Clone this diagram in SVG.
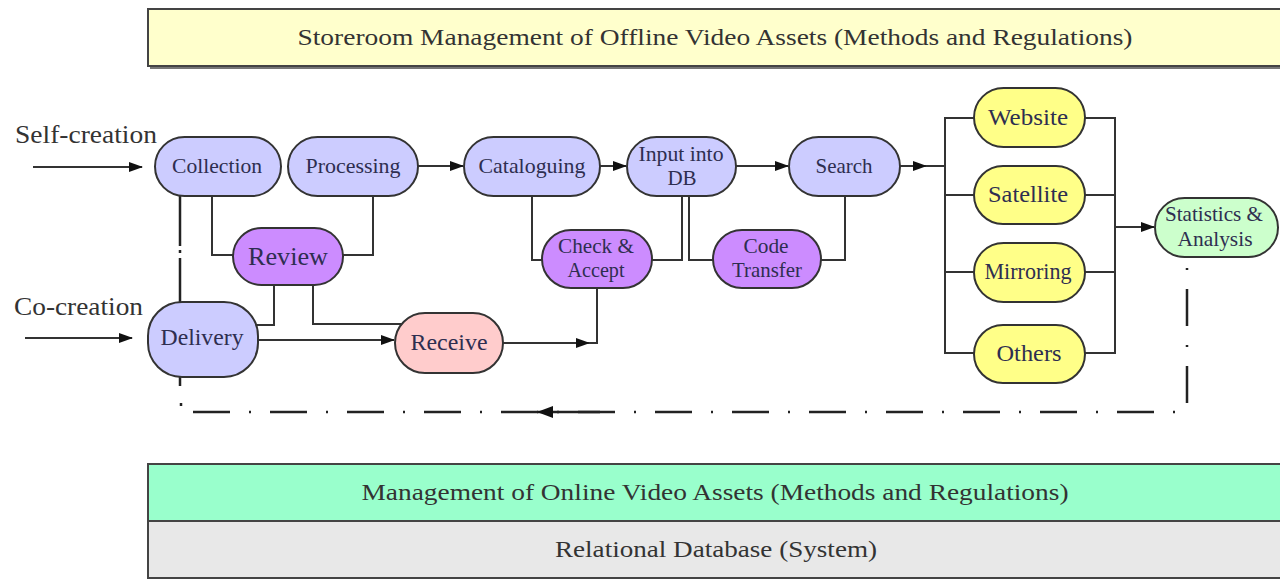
<svg xmlns="http://www.w3.org/2000/svg" width="1280" height="579" viewBox="0 0 1280 579">
<defs>
<marker id="ah" markerWidth="14" markerHeight="10" refX="13" refY="5" orient="auto" markerUnits="userSpaceOnUse"><path d="M0,0 L14,5 L0,10 z" fill="#111"/></marker>
</defs>
<style>
.node{stroke:#333;stroke-width:2}
.blue{fill:#ccccff}
.purple{fill:#cc8cff}
.pink{fill:#ffcccc}
.yellow{fill:#ffff88}
.green{fill:#ccffcc}
text{font-family:'Liberation Serif','Times New Roman',Tinos,serif}
.lbl{fill:#2e2e50;text-anchor:middle;font-size:21px}
.big{font-size:23px}
.ban{fill:#333;text-anchor:middle;font-size:24px}
.side{fill:#333;font-size:25px}
.conn{fill:none;stroke:#333;stroke-width:2}
.dd{fill:none;stroke:#222;stroke-width:2.5}
.dda{stroke-dasharray:37,19,2,19}
</style>
<rect width="1280" height="579" fill="#fff"/>

<g id="banner-top">
<rect x="150" y="12" width="1140" height="57" fill="#777"/>
<rect x="148" y="9" width="1140" height="57" fill="#ffffcc" stroke="#444" stroke-width="2"/>
<text class="ban" x="715" y="45" textLength="835" lengthAdjust="spacingAndGlyphs">Storeroom Management of Offline Video Assets (Methods and Regulations)</text>
</g>
<g id="banner-online">
<rect x="148" y="464" width="1140" height="57" fill="#99ffcc" stroke="#444" stroke-width="2"/>
<text class="ban" x="715" y="500" textLength="707" lengthAdjust="spacingAndGlyphs">Management of Online Video Assets (Methods and Regulations)</text>
</g>
<g id="banner-db">
<rect x="148" y="521" width="1140" height="57" fill="#e8e8e8" stroke="#444" stroke-width="2"/>
<text class="ban" x="716" y="557" textLength="322" lengthAdjust="spacingAndGlyphs">Relational Database (System)</text>
</g>

<text class="side" x="15" y="143" textLength="142" lengthAdjust="spacingAndGlyphs">Self-creation</text>
<text class="side" x="14" y="315" textLength="129" lengthAdjust="spacingAndGlyphs">Co-creation</text>

<g id="connectors">
<path class="conn" d="M33,167 H142" marker-end="url(#ah)"/>
<path class="conn" d="M25,338 H132" marker-end="url(#ah)"/>
<path class="conn" d="M418,166 H463" marker-end="url(#ah)"/>
<path class="conn" d="M600,166 H626" marker-end="url(#ah)"/>
<path class="conn" d="M736,166 H788" marker-end="url(#ah)"/>
<path class="conn" d="M900,166 H926" marker-end="url(#ah)"/>
<path class="conn" d="M926,166 H945"/>
<path class="conn" d="M974,118 H945 V353 H974 M945,195 H974 M945,272 H974"/>
<path class="conn" d="M1085,118 H1115 V353 H1085 M1085,195 H1115 M1085,272 H1115"/>
<path class="conn" d="M1115,227 H1154" marker-end="url(#ah)"/>
<path class="conn" d="M212,196 V255 H234"/>
<path class="conn" d="M373,196 V255 H342"/>
<path class="conn" d="M274,285 V325 H254"/>
<path class="conn" d="M313,285 V324 H408"/>
<path class="conn" d="M258,340 H394" marker-end="url(#ah)"/>
<path class="conn" d="M503,343 H589" marker-end="url(#ah)"/>
<path class="conn" d="M589,343 H597 V288"/>
<path class="conn" d="M532,196 V260 H543"/>
<path class="conn" d="M682,196 V260 H651"/>
<path class="conn" d="M689,196 V260 H714"/>
<path class="conn" d="M845,196 V260 H820"/>
<path class="dd" d="M180,196 V246 M180,250 V253 M180,258 V302 M180,377 V386 M181,403 V406"/>
<path class="dd dda" d="M193,412 H1187"/>
<path class="dd dda" d="M1187,403 V265"/>
<path class="dd" d="M537,412 H600"/>
<path d="M537,412 L553,406 L553,418 z" fill="#111"/>
</g>

<g id="collection"><rect class="node blue" x="155" y="137" width="126" height="59" rx="29.5"/><text class="lbl" x="217" y="173" textLength="90" lengthAdjust="spacingAndGlyphs">Collection</text></g>
<g id="processing"><rect class="node blue" x="288" y="137" width="130" height="59" rx="29.5"/><text class="lbl" x="353" y="173" textLength="95" lengthAdjust="spacingAndGlyphs">Processing</text></g>
<g id="cataloguing"><rect class="node blue" x="464" y="137" width="136" height="59" rx="29.5"/><text class="lbl" x="532" y="173" textLength="107" lengthAdjust="spacingAndGlyphs">Cataloguing</text></g>
<g id="input-db"><rect class="node blue" x="627" y="137" width="109" height="59" rx="29.5"/><text class="lbl" x="681" y="161" textLength="85" lengthAdjust="spacingAndGlyphs">Input into</text><text class="lbl" x="682" y="185">DB</text></g>
<g id="search"><rect class="node blue" x="789" y="137" width="111" height="59" rx="29.5"/><text class="lbl" x="844" y="173" textLength="57" lengthAdjust="spacingAndGlyphs">Search</text></g>
<g id="review"><rect class="node purple" x="233" y="228" width="110" height="57" rx="28.5"/><text class="lbl" x="288" y="265" style="font-size:25px" textLength="80" lengthAdjust="spacingAndGlyphs">Review</text></g>
<g id="check-accept"><rect class="node purple" x="542" y="230" width="110" height="58" rx="29"/><text class="lbl" x="596" y="253" textLength="76" lengthAdjust="spacingAndGlyphs">Check &amp;</text><text class="lbl" x="596" y="277" textLength="57" lengthAdjust="spacingAndGlyphs">Accept</text></g>
<g id="code-transfer"><rect class="node purple" x="713" y="230" width="108" height="58" rx="29"/><text class="lbl" x="766" y="253" textLength="45" lengthAdjust="spacingAndGlyphs">Code</text><text class="lbl" x="767" y="277" textLength="70" lengthAdjust="spacingAndGlyphs">Transfer</text></g>
<g id="delivery"><rect class="node blue" x="148" y="302" width="110" height="75" rx="34"/><text class="lbl big" x="202" y="345" textLength="83" lengthAdjust="spacingAndGlyphs">Delivery</text></g>
<g id="receive"><rect class="node pink" x="395" y="313" width="108" height="60" rx="30"/><text class="lbl big" x="449" y="350" textLength="77" lengthAdjust="spacingAndGlyphs">Receive</text></g>
<g id="website"><rect class="node yellow" x="974" y="88" width="111" height="59" rx="29.5"/><text class="lbl big" x="1028" y="125" textLength="80" lengthAdjust="spacingAndGlyphs">Website</text></g>
<g id="satellite"><rect class="node yellow" x="974" y="166" width="111" height="58" rx="29"/><text class="lbl big" x="1028" y="202" textLength="80" lengthAdjust="spacingAndGlyphs">Satellite</text></g>
<g id="mirroring"><rect class="node yellow" x="974" y="243" width="111" height="59" rx="29.5"/><text class="lbl big" x="1028" y="279" textLength="87" lengthAdjust="spacingAndGlyphs">Mirroring</text></g>
<g id="others"><rect class="node yellow" x="974" y="325" width="111" height="58" rx="29"/><text class="lbl big" x="1029" y="361" textLength="65" lengthAdjust="spacingAndGlyphs">Others</text></g>
<g id="statistics"><rect class="node green" x="1155" y="198" width="123" height="59" rx="29.5"/><text class="lbl" x="1214" y="221" textLength="98" lengthAdjust="spacingAndGlyphs">Statistics &amp;</text><text class="lbl" x="1215" y="246" textLength="75" lengthAdjust="spacingAndGlyphs">Analysis</text></g>
</svg>
